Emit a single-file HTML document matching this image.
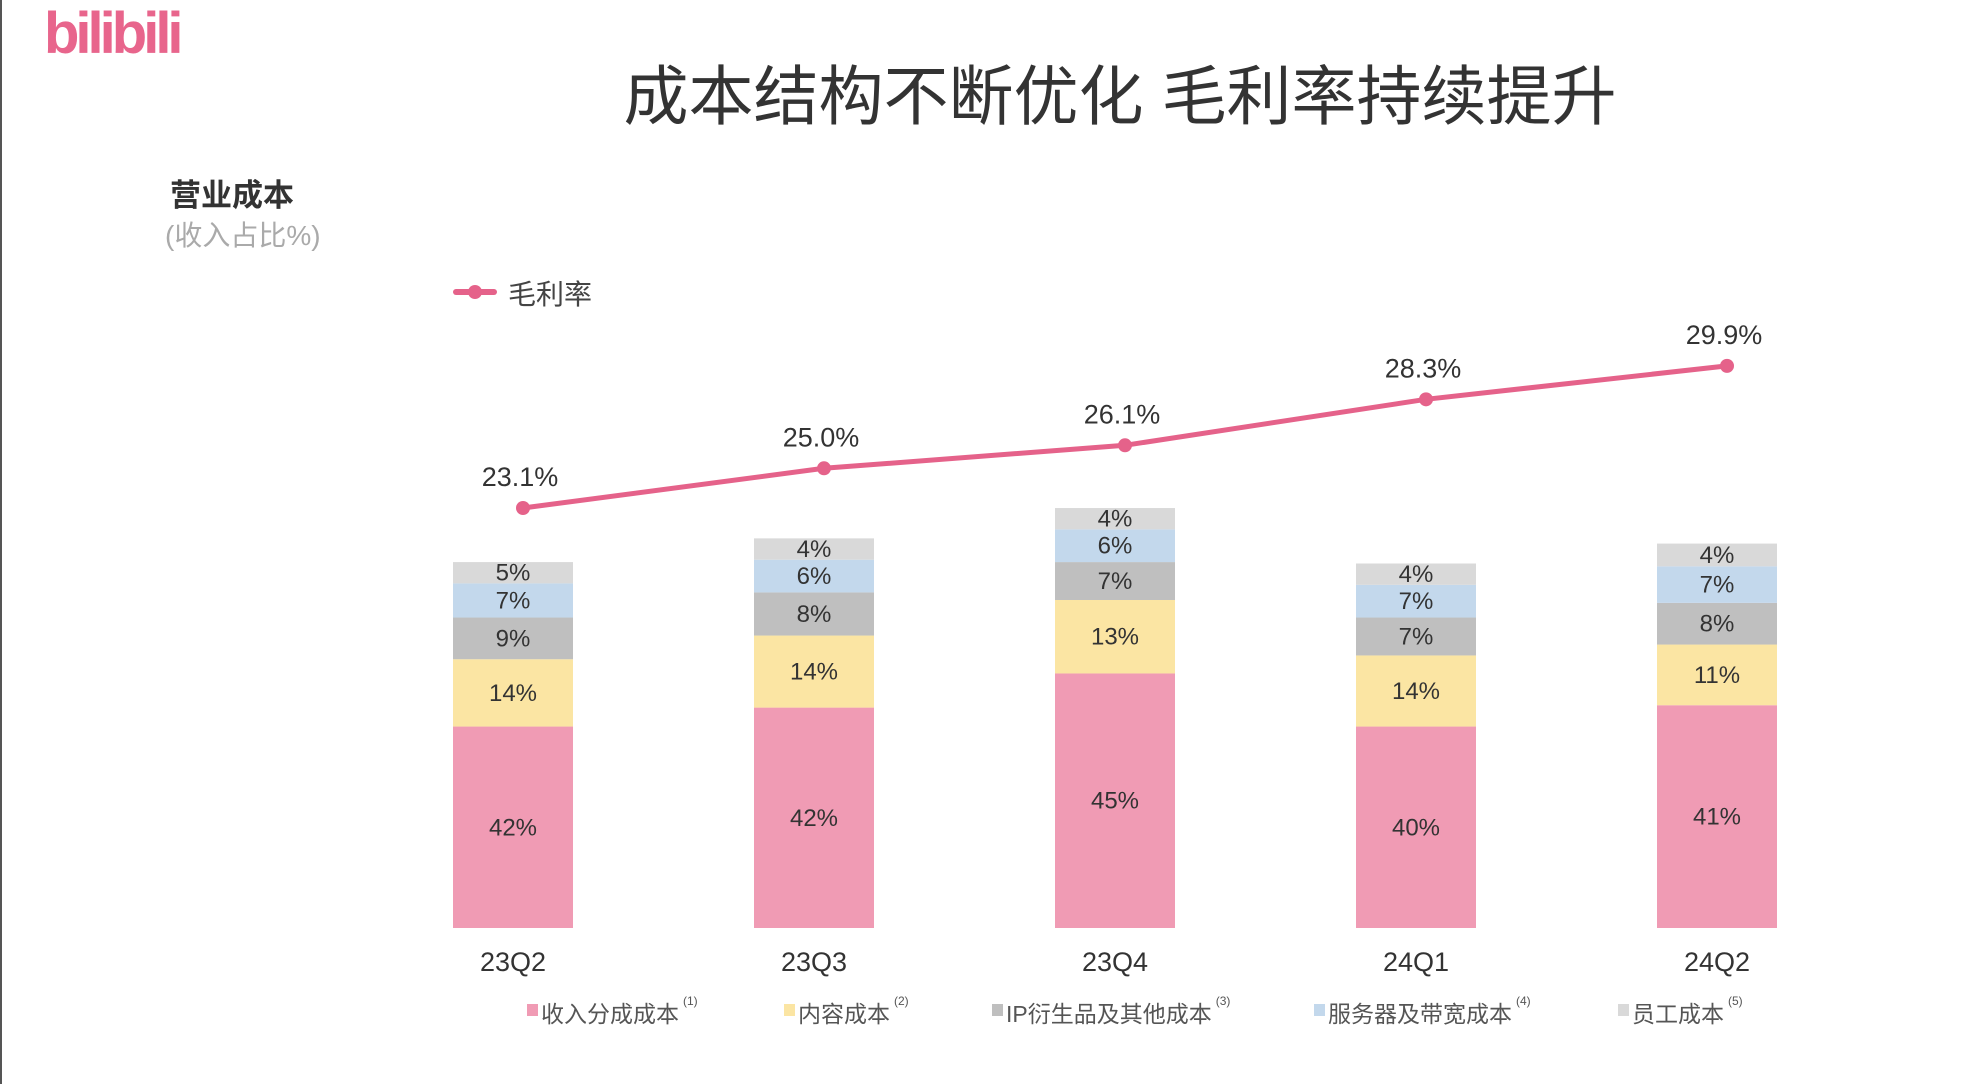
<!DOCTYPE html>
<html><head><meta charset="utf-8"><style>
body{margin:0;width:1970px;height:1084px;background:#fff;overflow:hidden;font-family:"Liberation Sans","Noto Sans CJK SC",sans-serif;position:relative}
.a{position:absolute;white-space:nowrap}
</style></head><body>
<div class="a" style="left:0;top:0;width:2px;height:1084px;background:#555"></div>
<div class="a" style="left:44px;top:0px;font-size:58px;font-weight:bold;color:#e8658c;letter-spacing:-4px">bilibili</div>
<div class="a" style="left:1120px;top:44px;transform:translateX(-50%);font-size:65px;color:#333">成本结构不断优化 毛利率持续提升</div>
<div class="a" style="left:170px;top:170px;font-size:31px;font-weight:bold;color:#333">营业成本</div>
<div class="a" style="left:165px;top:214px;font-size:28px;color:#aaa">(收入占比%)</div>
<svg class="a" style="left:0;top:0" width="1970" height="1084" id="chart"></svg>
<script>
const categories=["23Q2","23Q3","23Q4","24Q1","24Q2"];
// segment sizes as drawn
const revenueShare=[42.5,46.5,53.7,42.5,47.0];
const contentCost=[14.2,15.2,15.5,15.0,12.8];
const ipCost=[8.8,9.1,8.0,8.0,8.8];
const serverCost=[7.2,6.9,6.9,6.9,7.7];
const staffCost=[4.5,4.5,4.5,4.5,4.8];
// printed labels
const revenueLabels=["42%","42%","45%","40%","41%"];
const contentLabels=["14%","14%","13%","14%","11%"];
const ipLabels=["9%","8%","7%","7%","8%"];
const serverLabels=["7%","6%","6%","7%","7%"];
const staffLabels=["5%","4%","4%","4%","4%"];
const grossMargin=[23.1,25.0,26.1,28.3,29.9];
const seriesNames=["收入分成成本","内容成本","IP衍生品及其他成本","服务器及带宽成本","员工成本"];
const series=[revenueShare,contentCost,ipCost,serverCost,staffCost];
const labels=[revenueLabels,contentLabels,ipLabels,serverLabels,staffLabels];
const colors=["#f09bb4","#fbe5a3","#bfbfbf","#c3d8ec","#d9d9d9"];
const svg=document.getElementById('chart');const NS="http://www.w3.org/2000/svg";
function mk(t,at){const e=document.createElementNS(NS,t);for(const k in at)e.setAttribute(k,at[k]);svg.appendChild(e);return e;}
const xC=i=>513+i*301;
const base=928, pxPer=4.74;
const yBar=v=>base-v*pxPer;
const yLine=v=>508-(v-23.1)*20.9;
categories.forEach((c,i)=>{
 let acc=0;
 series.forEach((s,k)=>{
  const y0=yBar(acc),y1=yBar(acc+s[i]);
  const r=mk('rect',{x:xC(i)-60,y:y1,width:120,height:y0-y1,fill:colors[k]});
  
  
  const t=mk('text',{x:xC(i),y:(y0+y1)/2+8,'text-anchor':'middle','font-size':24,fill:'#333'});
  t.textContent=labels[k][i];
  
  
  acc+=s[i];
 });
 const xl=mk('text',{x:xC(i),y:971,'text-anchor':'middle','font-size':27,fill:'#333'});
 xl.textContent=c;
 
 
});
const pts=grossMargin.map((v,i)=>[xC(i)+10,yLine(v)]);
const pl=mk('polyline',{points:pts.map(p=>p.join(',')).join(' '),fill:'none',stroke:'#e5628a','stroke-width':5});


pts.forEach((p,i)=>{
 const c=mk('circle',{cx:p[0],cy:p[1],r:7,fill:'#e5628a'});
 
 
 const t=mk('text',{x:p[0]-3,y:p[1]-22,'text-anchor':'middle','font-size':27,fill:'#333'});
 t.textContent=grossMargin[i].toFixed(1)+'%';
 
 
});
const ll=mk('line',{x1:456,y1:292,x2:494,y2:292,stroke:'#e5628a','stroke-width':6,'stroke-linecap':'round'});


const lc=mk('circle',{cx:475,cy:292,r:7,fill:'#e5628a'});


const lt=mk('text',{x:508,y:304,'font-size':28,fill:'#444'});
lt.textContent='毛利率';


const lx=[527,784,992,1314,1618];
seriesNames.forEach((n,k)=>{
 const r=mk('rect',{x:lx[k],y:1004,width:11,height:12,fill:colors[k]});
 
 
 const t=mk('text',{x:lx[k]+14,y:1022,'font-size':23,fill:'#555'});
 t.textContent=n;
 
 
 const w=t.getComputedTextLength();
 const s=mk('text',{x:lx[k]+14+w+4,y:1005,'font-size':12,fill:'#555'});
 s.textContent='('+(k+1)+')';
 
 
});
</script>
</body></html>
